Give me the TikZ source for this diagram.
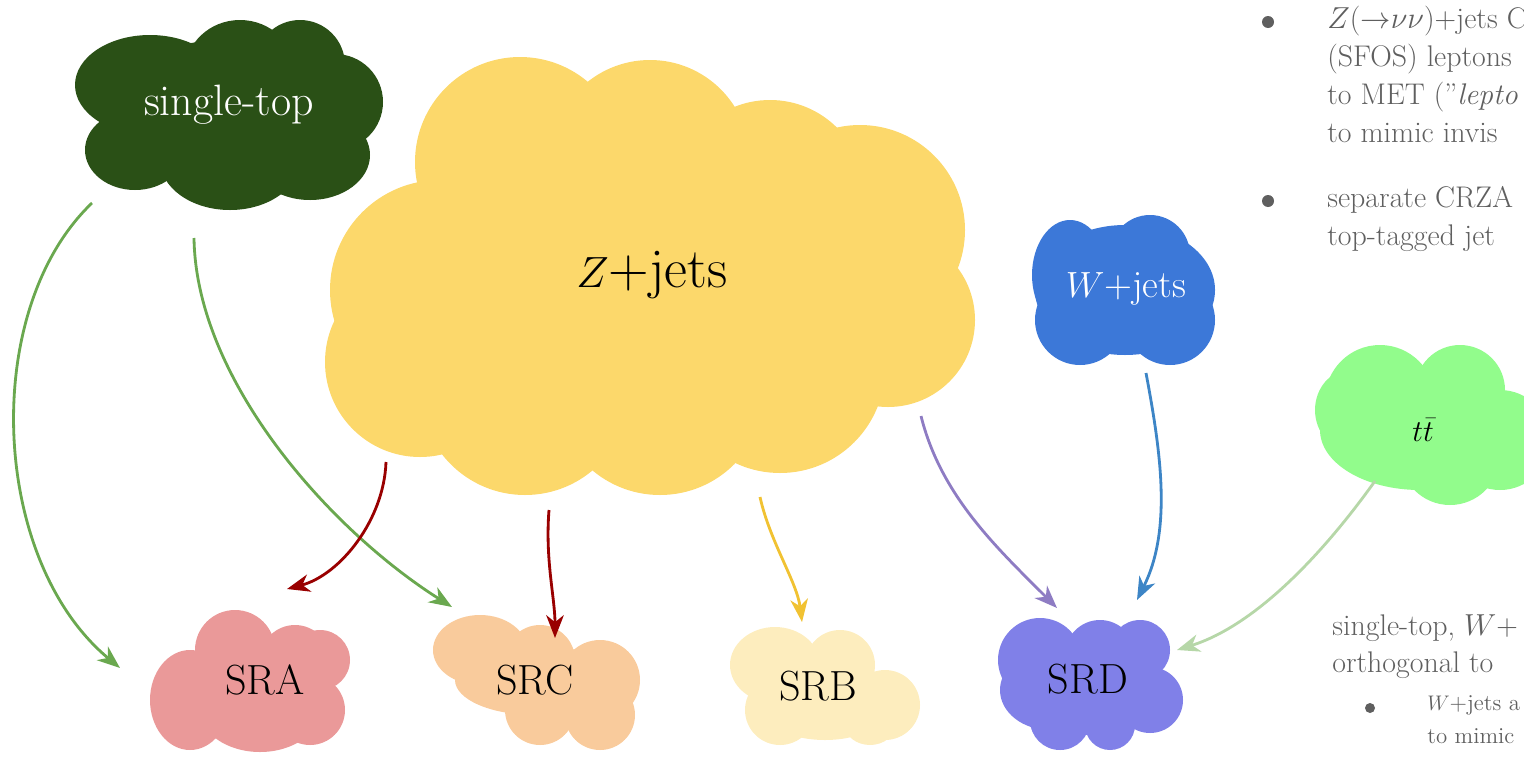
\documentclass[tikz,border=0pt]{standalone}
\usepackage{tikz}
\usetikzlibrary{arrows.meta,calc}
\definecolor{stopgreen}{HTML}{2A5016}
\definecolor{zyellow}{HTML}{FCD86B}
\definecolor{wblue}{HTML}{3C78D8}
\definecolor{ttgreen}{HTML}{92FC8C}
\definecolor{srared}{HTML}{EA9999}
\definecolor{srcorange}{HTML}{F9CB9C}
\definecolor{srbyellow}{HTML}{FDEDBE}
\definecolor{srdviolet}{HTML}{8080E8}
\definecolor{arrgreen}{HTML}{6AA84F}
\definecolor{arrred}{HTML}{990000}
\definecolor{arryellow}{HTML}{F1C232}
\definecolor{arrviolet}{HTML}{8E7CC3}
\definecolor{arrblue}{HTML}{3D85C6}
\definecolor{arrlight}{HTML}{B6D7A8}
\definecolor{notegray}{HTML}{5F5F5F}
\newcommand{\blob}[2]{\foreach \bx/\by/\rx/\ry in {#2} \fill[#1] (\bx,\by) ellipse [x radius=\rx, y radius=\ry];}

\begin{document}
\begin{tikzpicture}[x=0.02cm,y=-0.02cm,
	lbl/.style={font=\fontsize{24}{28}\selectfont, inner sep=0pt},
	note/.style={font=\fontsize{17}{21.5}\selectfont, text=notegray, align=left, anchor=north west, inner sep=0pt},
	subnote/.style={note, font=\fontsize{13}{19}\selectfont},
	flow/.style={line width=1.6pt, -{Stealth[length=13pt,width=10pt,inset=4pt]}}]
	\useasboundingbox (0,0) rectangle (1524,761);
	
	% clouds
	\blob{stopgreen}{150/85/75/50, 240/72/55/52, 300/65/45/45, 335/102/48/48, 310/155/60/45, 230/160/70/50, 135/150/50/40, 229/110/130/70}
	\blob{zyellow}{520/162/105/105, 650/160/100/100, 770/195/95/95, 860/230/105/105, 888/320/87/87, 440/290/110/110, 420/362/95/95, 525/390/105/105, 660/390/105/105, 780/368/105/105, 650/290/280/170}
	\blob{wblue}{1125/290/90/65, 1150/255/40/40, 1080/320/45/45, 1170/320/45/45, 1070/275/38/55}
	\blob{ttgreen}{1380/400/55/55, 1350/410/35/40, 1460/390/45/45, 1450/455/50/50, 1500/440/50/50, 1420/430/100/60}
	\blob{srared}{190/700/40/50, 235/650/40/40, 295/660/35/35, 320/660/30/30, 260/710/60/42, 310/710/35/35}
	\blob{srcorange}{480/650/47/35, 540/660/35/35, 600/680/40/40, 600/715/35/35, 540/710/35/35, 535/680/80/35}
	\blob{srbyellow}{775/665/45/38, 840/665/35/35, 885/705/35/35, 780/710/35/35, 870/725/25/20, 825/700/70/40}
	\blob{srdviolet}{1040/660/42/42, 1100/655/35/35, 1140/650/30/30, 1150/700/33/33, 1060/720/30/30, 1110/725/25/25, 1050/690/50/40, 1090/690/80/45}
	
	% labels
	\node[lbl, text=white, font=\fontsize{25}{28}\selectfont] (stop) at (229,105) {single-top};
	\node[lbl, font=\fontsize{32}{36}\selectfont] (zjets) at (652,275) {$Z$+jets};
	\node[lbl, text=white, font=\fontsize{22}{26}\selectfont] (wjets) at (1126,289) {$W$+jets};
	\node[lbl, font=\fontsize{19}{22}\selectfont] (ttbar) at (1423,430) {$t\bar{t}$};
	\node[lbl] (sra) at (265,680) {SRA};
	\node[lbl] (src) at (535,680) {SRC};
	\node[lbl] (srb) at (818,686) {SRB};
	\node[lbl] (srd) at (1088,679) {SRD};
	
	% arrows
	\draw[flow, arrgreen] ([shift={(-137,98)}]stop.center) .. controls +(-112,107) and +(-130,-108) .. ([shift={(-145,-12)}]sra.center);
	\draw[flow, arrgreen] ([shift={(-35,133)}]stop.center) .. controls +(2,142) and +(-122,-77) .. ([shift={(-83,-73)}]src.center);
	\draw[flow, arrred] ([shift={(-266,187)}]zjets.center) .. controls +(-2,58) and +(53,-14) .. ([shift={(22,-91)}]sra.center);
	\draw[flow, arrred] ([shift={(-103,235)}]zjets.center) .. controls +(-4,50) and +(0,-40) .. ([shift={(20,-42)}]src.center);
	\draw[flow, arryellow] ([shift={(108,222)}]zjets.center) .. controls +(10,45) and +(-5,-40) .. ([shift={(-16,-64)}]srb.center);
	\draw[flow, arrviolet] ([shift={(269,141)}]zjets.center) .. controls +(20,80) and +(-60,-60) .. ([shift={(-31,-71)}]srd.center);
	\draw[flow, arrblue] ([shift={(20,84)}]wjets.center) .. controls +(15,80) and +(35,-70) .. ([shift={(49,-79)}]srd.center);
	\draw[flow, arrlight] ([shift={(-48,51)}]ttbar.center) .. controls +(-50,70) and +(80,-25) .. ([shift={(89,-29)}]srd.center);
	
	% notes
	\fill[notegray] (1268,22) circle (6);
	\node[note] (crz) at (1327,6) {$Z$(${\rightarrow}\nu\nu$)+jets CR\\(SFOS) leptons\\to MET ("\textit{lepto}\\to mimic invis};
	\fill[notegray] (1268,201) circle (6);
	\node[note] (crza) at (1327,186) {separate CRZA\\top-tagged jet};
	\node[note] (orth) at (1332,614) {single-top, $W$+\\orthogonal to};
	\fill[notegray] (1370,708) circle (5);
	\node[subnote] (wmimic) at (1427,695) {$W$+jets a\\to mimic};
\end{tikzpicture}
\end{document}
